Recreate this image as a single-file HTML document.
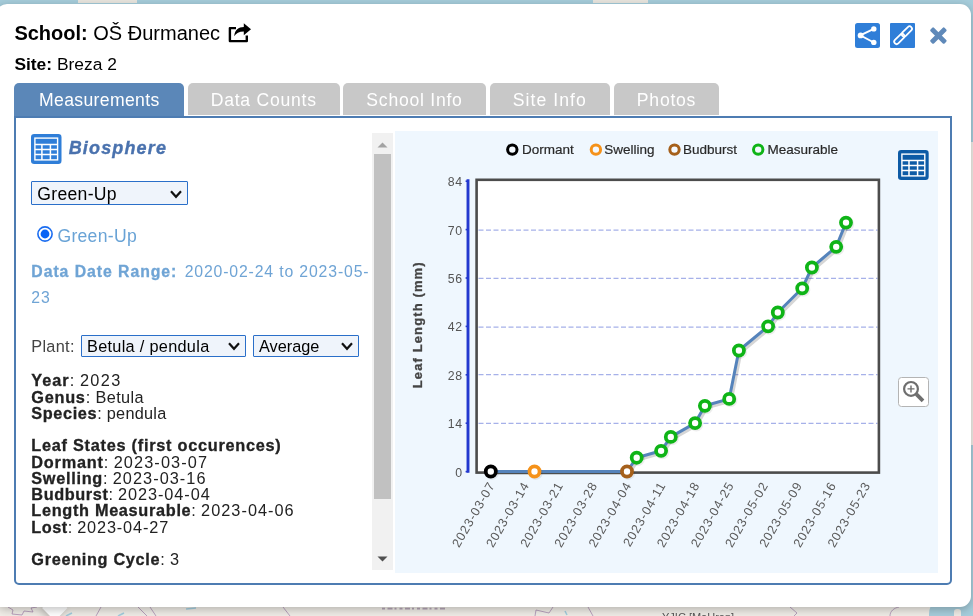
<!DOCTYPE html>
<html><head><meta charset="utf-8">
<style>
*{box-sizing:border-box;margin:0;padding:0}
html,body{width:973px;height:616px;overflow:hidden}
body{position:relative;background:#f0ede7;font-family:"Liberation Sans",sans-serif;color:#000}
#wrap{position:absolute;left:0;top:0;width:973px;height:616px;overflow:hidden;will-change:transform}
.abs{position:absolute}
#water-top{left:0;top:0;width:973px;height:8px;background:#a6cddb}
#land-top{left:77.5px;top:0;width:59.5px;height:3px;background:#e9e6df}
#water-br{left:929px;top:596px;width:60px;height:30px;background:#a6cddb;border-radius:18px 0 0 0}
#popup{left:-3.8px;top:3.7px;width:974.9px;height:603.5px;background:#fff;border-radius:11px;box-shadow:0 2.5px 9px rgba(0,0,0,.24)}
#tip{left:45.6px;top:598.7px;width:17.6px;height:17.6px;background:#fff;transform:rotate(45deg);box-shadow:0 2.5px 9px rgba(0,0,0,.24)}
#tipcover{left:0;top:590px;width:300px;height:17px;background:#fff}
.t{position:absolute;white-space:nowrap;line-height:1}
.tab{position:absolute;top:83.25px;height:31.25px;background:#c8c8c8;border-radius:5px 5px 0 0;color:#fff;font-size:17.6px;text-align:center;line-height:35.4px;letter-spacing:.35px}
.tab.on{background:#5b87b8;height:34px;top:83.25px;line-height:35.4px}
#panel{left:14.3px;top:115.5px;width:938px;height:469px;border:2px solid #4d7cb2;border-radius:0 0 5px 5px}
.dv{--d:0px;font-size:16.3px;letter-spacing:calc(.3px + var(--d));color:#222}
.dv b{letter-spacing:calc(.65px + var(--d));-webkit-text-stroke:.3px #222}
.dv i{font-style:normal;letter-spacing:calc(1px + var(--d))}
.dv span{letter-spacing:calc(.3px + var(--d))}
.sel{position:absolute;border:1px solid #2a6fc9;background:#eff4fb;border-radius:1px}
</style></head><body><div id="wrap">
<div id="water-top" class="abs"></div><div class="abs" style="left:593px;top:0;width:55px;height:3px;background:#e9e6df"></div><div class="abs" style="left:966px;top:0;width:7px;height:142px;background:#a6cddb"></div><div class="abs" style="left:966px;top:445px;width:7px;height:171px;background:#a6cddb"></div><div id="land-top" class="abs"></div><div id="water-br" class="abs"></div><div class="abs" style="left:954px;top:609px;width:7px;height:7px;background:#eeebe5;border-radius:3px 3px 0 0"></div>
<svg class="abs" style="left:0;top:600px" width="973" height="16" viewBox="0 600 973 16" fill="none">
<g stroke="#9a78a6" stroke-opacity=".65" stroke-width="1">
<path d="M8 607 L13 610 L12 614 L22 615 L24 611 L33 612 L31 608 L37 607"/>
<path d="M101 607 L96 616"/><path d="M138 607 L147 616"/><path d="M150 607 L156 616"/>
<path d="M283 607 L290 616"/><path d="M535 616 L536 610 L549 613 L553 607"/><path d="M588 607 L593 616"/>
<path d="M790 607 L797 613 L794 616"/><path d="M890 616 C890 611 894 608 899 607"/>
</g>
<g stroke="#8fc6dc" stroke-opacity=".8" stroke-width="1.6"><path d="M186 609 L196 608"/><path d="M66 616 L72 613"/><path d="M118 616 L124 613"/><path d="M565 611 L567 615"/></g>
<path d="M382 608.6 H447" stroke="#6b4a78" stroke-opacity=".45" stroke-width="1.8" stroke-dasharray="3 2.5 5 2 2 3"/>
<text x="662" y="620.5" font-family="Liberation Sans, sans-serif" font-size="11" fill="#555">YJIC [MoHron]</text>
</svg>
<div id="tip" class="abs"></div>
<div id="popup" class="abs"></div>
<div id="tipcover" class="abs"></div>

<!-- header -->
<div class="t" style="left:14.4px;top:23.4px;font-size:20px"><b>School:</b> OŠ Đurmanec</div>
<div class="t" style="left:14.4px;top:55.7px;font-size:17.4px"><b>Site:</b> Breza 2</div>
<svg class="abs" style="left:227px;top:22px" width="26" height="22" viewBox="0 0 26 22">
<path d="M9 6.1 H2.9 V19.1 H19.8 V13.6" fill="none" stroke="#000" stroke-width="2.4" stroke-linejoin="round" stroke-linecap="butt"/>
<path d="M7.2 14.3 C7.8 7.8 11.5 5.2 16.8 5.1 V1.2 L24 7.2 L16.8 13.3 V9.5 C12 9.5 9.2 11 7.2 14.3 Z" fill="#000"/>
</svg>

<!-- share / link / close -->
<svg class="abs" style="left:855px;top:23px" width="25" height="25" viewBox="0 0 25 25">
<rect width="25" height="25" rx="2.5" fill="#2f7ed8"/>
<path d="M18.8 5.8 L5.3 12.4 L18.8 19.5" fill="none" stroke="#fff" stroke-width="1.9"/>
<circle cx="5.6" cy="12.4" r="2.9" fill="#fff"/><circle cx="18.8" cy="5.9" r="2.7" fill="#fff"/><circle cx="18.8" cy="19.4" r="2.7" fill="#fff"/>
</svg>
<svg class="abs" style="left:890px;top:23px" width="25" height="25" viewBox="0 0 25 25">
<rect width="25" height="25" rx="1" fill="#2f7ed8"/>
<g transform="translate(.6 -.3) rotate(-45 12.5 12.5)" fill="none" stroke="#fff" stroke-width="1.75">
<rect x="0.95" y="10.1" width="12.5" height="4.8" rx="2.4"/><rect x="11.55" y="10.1" width="12.5" height="4.8" rx="2.4"/>
</g></svg>
<svg class="abs" style="left:929px;top:26.4px" width="19" height="19" viewBox="0 0 19 19">
<g transform="translate(9.4 9.6) rotate(45)" fill="#5f89b9"><rect x="-9.9" y="-2.4" width="19.8" height="4.8" rx="1.2"/><rect x="-2.4" y="-9.9" width="4.8" height="19.8" rx="1.2"/></g>
</svg>

<!-- tabs -->
<div class="tab on" style="left:14.3px;width:170px">Measurements</div>
<div class="tab" style="left:187.5px;width:152.5px;letter-spacing:.75px">Data Counts</div>
<div class="tab" style="left:343px;width:143px;letter-spacing:.75px">School Info</div>
<div class="tab" style="left:489.8px;width:120px;letter-spacing:1.05px">Site Info</div>
<div class="tab" style="left:614px;width:105px;letter-spacing:.75px">Photos</div>
<div id="panel" class="abs"></div>

<!-- left column -->
<svg class="abs" style="left:31.3px;top:134px" width="30.5" height="30" viewBox="0 0 30.5 30">
<rect width="30.5" height="30" rx="3.2" fill="#2f7ed8"/>
<rect x="3.9" y="4.1" width="22.7" height="21.8" fill="none" stroke="#fff" stroke-width="1.4"/>
<path d="M3.9 10.6 H26.6 M3.9 15.6 H26.6 M3.9 20.6 H26.6 M10.9 10.6 V25.9 M19.4 10.6 V25.9" stroke="#fff" stroke-width="1.5" fill="none"/>
</svg>
<div class="t" id="bio" style="left:68.7px;top:138.8px;font-size:18px;font-weight:bold;font-style:italic;color:#4a72ae;letter-spacing:1.15px;-webkit-text-stroke:.35px #4a72ae">Biosphere</div>

<div class="sel" style="left:31px;top:181px;width:157px;height:24px"></div>
<div class="t" id="s1" style="left:37.3px;top:186.3px;font-size:17.6px;letter-spacing:.3px;color:#000">Green-Up</div>
<svg class="abs chev" style="left:169.5px;top:189.5px" width="12" height="9" viewBox="0 0 12 9"><path d="M1 1.3 L6 6.8 L11 1.3" fill="none" stroke="#111" stroke-width="2.2"/></svg>

<svg class="abs" style="left:37px;top:226px" width="16" height="16" viewBox="0 0 16 16"><circle cx="8" cy="8" r="7.1" fill="#fff" stroke="#1a6cf0" stroke-width="1.6"/><circle cx="8" cy="8" r="4.4" fill="#0a64f5"/></svg>
<div class="t" id="r1" style="left:57.4px;top:227.9px;font-size:17.6px;letter-spacing:.3px;color:#69a3d6">Green-Up</div>

<div class="t" id="ddr" style="left:31.3px;top:264.2px;font-size:15.8px;color:#6fa4d5;letter-spacing:.55px"><b style="letter-spacing:.95px;-webkit-text-stroke:.3px #6fa4d5">Data Date Range:</b><span style="letter-spacing:.85px;margin-left:7.4px">2020-02-24 to 2023-05-</span></div>
<div class="t" id="ddr2" style="left:31.3px;top:290.4px;font-size:15.8px;color:#6fa4d5;letter-spacing:.85px">23</div>

<div class="t dv" id="plant" style="left:31.3px;top:337.9px;color:#444">Plant:</div>
<div class="sel" style="left:80.8px;top:335px;width:165px;height:21.8px"></div>
<div class="t dv" id="s2" style="left:87px;top:337.9px;color:#000">Betula / pendula</div>
<svg class="abs chev" style="left:228px;top:342px" width="12" height="9" viewBox="0 0 12 9"><path d="M1 1.3 L6 6.8 L11 1.3" fill="none" stroke="#111" stroke-width="2.2"/></svg>
<div class="sel" style="left:252.8px;top:335px;width:106.4px;height:21.8px"></div>
<div class="t dv" id="s3" style="letter-spacing:0;left:259px;top:337.9px;color:#000">Average</div>
<svg class="abs chev" style="left:340.8px;top:342px" width="12" height="9" viewBox="0 0 12 9"><path d="M1 1.3 L6 6.8 L11 1.3" fill="none" stroke="#111" stroke-width="2.2"/></svg>

<div class="abs dv" id="info" style="left:31.3px;top:372.3px;line-height:16.25px;white-space:nowrap">
<span id="L0" style="--d:0.333px"><b>Year</b>: <i>2023</i></span><br>
<span id="L1" style="--d:0.083px"><b>Genus</b>: Betula</span><br>
<span id="L2" style="--d:-0.033px"><b>Species</b>: pendula</span><br>
<br>
<span id="L4" style="--d:0.090px"><b>Leaf States (first occurences)</b></span><br>
<span id="L5" style="--d:0.13px"><b>Dormant</b>: <i>2023-03-07</i></span><br>
<span id="L6" style="--d:0.053px"><b>Swelling</b>: <i>2023-03-16</i></span><br>
<span id="L7" style="--d:-0.053px"><b>Budburst</b>: <i>2023-04-04</i></span><br>
<span id="L8" style="--d:0.036px"><b>Length Measurable</b>: <i>2023-04-06</i></span><br>
<span id="L9" style="--d:-0.133px"><b>Lost</b>: <i>2023-04-27</i></span><br>
<br>
<span id="L11" style="--d:0.031px"><b>Greening Cycle</b>: <i>3</i></span></div>

<!-- scrollbar -->
<div class="abs" style="left:372px;top:132.5px;width:21.2px;height:437.5px;background:#f1f1f1"></div>
<div class="abs" style="left:374.3px;top:154px;width:16.6px;height:345px;background:#c1c1c1"></div>
<svg class="abs" style="left:377px;top:141.5px" width="11" height="6" viewBox="0 0 11 6"><path d="M0.5 5.6 L5.5 0.4 L10.5 5.6Z" fill="#a3a3a3"/></svg>
<svg class="abs" style="left:377px;top:555.6px" width="11" height="6" viewBox="0 0 11 6"><path d="M0.5 0.4 L5.5 5.6 L10.5 0.4Z" fill="#505050"/></svg>
<!-- chart -->
<div id="chart" class="abs" style="left:395px;top:130.5px;width:543px;height:442px;background:#eff7fe"></div>
<svg class="abs" style="left:0;top:0" width="973" height="616" viewBox="0 0 973 616" font-family="Liberation Sans, sans-serif">
<rect x="476.6" y="179.8" width="402.3" height="292.8" fill="#fff"/>
<line x1="478.5" x2="877.5" y1="230.0" y2="230.0" stroke="#a6b1e9" stroke-width="1.25" stroke-dasharray="5 2.5"/>
<line x1="478.5" x2="877.5" y1="278.3" y2="278.3" stroke="#a6b1e9" stroke-width="1.25" stroke-dasharray="5 2.5"/>
<line x1="478.5" x2="877.5" y1="327.2" y2="327.2" stroke="#a6b1e9" stroke-width="1.25" stroke-dasharray="5 2.5"/>
<line x1="478.5" x2="877.5" y1="374.6" y2="374.6" stroke="#a6b1e9" stroke-width="1.25" stroke-dasharray="5 2.5"/>
<line x1="478.5" x2="877.5" y1="423.3" y2="423.3" stroke="#a6b1e9" stroke-width="1.25" stroke-dasharray="5 2.5"/>
<rect x="476.6" y="179.8" width="402.3" height="292.8" fill="none" stroke="#4c4c4c" stroke-width="2.6"/>
<line x1="468" x2="468" y1="179.3" y2="472.8" stroke="#2338cf" stroke-width="2.9"/>
<line x1="465.6" x2="468" y1="181.2" y2="181.2" stroke="#2338cf" stroke-width="1.6"/>
<text x="463" y="186.2" text-anchor="end" font-size="12.3" letter-spacing=".8" fill="#555">84</text>
<line x1="465.6" x2="468" y1="229.6" y2="229.6" stroke="#2338cf" stroke-width="1.6"/>
<text x="463" y="234.6" text-anchor="end" font-size="12.3" letter-spacing=".8" fill="#555">70</text>
<line x1="465.6" x2="468" y1="278.0" y2="278.0" stroke="#2338cf" stroke-width="1.6"/>
<text x="463" y="283.0" text-anchor="end" font-size="12.3" letter-spacing=".8" fill="#555">56</text>
<line x1="465.6" x2="468" y1="326.4" y2="326.4" stroke="#2338cf" stroke-width="1.6"/>
<text x="463" y="331.4" text-anchor="end" font-size="12.3" letter-spacing=".8" fill="#555">42</text>
<line x1="465.6" x2="468" y1="374.8" y2="374.8" stroke="#2338cf" stroke-width="1.6"/>
<text x="463" y="379.8" text-anchor="end" font-size="12.3" letter-spacing=".8" fill="#555">28</text>
<line x1="465.6" x2="468" y1="423.2" y2="423.2" stroke="#2338cf" stroke-width="1.6"/>
<text x="463" y="428.2" text-anchor="end" font-size="12.3" letter-spacing=".8" fill="#555">14</text>
<line x1="465.6" x2="468" y1="471.6" y2="471.6" stroke="#2338cf" stroke-width="1.6"/>
<text x="463" y="476.6" text-anchor="end" font-size="12.3" letter-spacing=".8" fill="#555">0</text>
<text transform="translate(422.3 324.8) rotate(-90)" text-anchor="middle" font-size="13" font-weight="bold" letter-spacing="1.12" fill="#444" stroke="#444" stroke-width=".3">Leaf Length (mm)</text>
<text transform="translate(495.5 485) rotate(-60)" text-anchor="end" font-size="12.6" letter-spacing=".87" fill="#5a5a5a">2023-03-07</text>
<text transform="translate(529.6 485) rotate(-60)" text-anchor="end" font-size="12.6" letter-spacing=".87" fill="#5a5a5a">2023-03-14</text>
<text transform="translate(563.7 485) rotate(-60)" text-anchor="end" font-size="12.6" letter-spacing=".87" fill="#5a5a5a">2023-03-21</text>
<text transform="translate(597.9 485) rotate(-60)" text-anchor="end" font-size="12.6" letter-spacing=".87" fill="#5a5a5a">2023-03-28</text>
<text transform="translate(632.0 485) rotate(-60)" text-anchor="end" font-size="12.6" letter-spacing=".87" fill="#5a5a5a">2023-04-04</text>
<text transform="translate(666.2 485) rotate(-60)" text-anchor="end" font-size="12.6" letter-spacing=".87" fill="#5a5a5a">2023-04-11</text>
<text transform="translate(700.3 485) rotate(-60)" text-anchor="end" font-size="12.6" letter-spacing=".87" fill="#5a5a5a">2023-04-18</text>
<text transform="translate(734.4 485) rotate(-60)" text-anchor="end" font-size="12.6" letter-spacing=".87" fill="#5a5a5a">2023-04-25</text>
<text transform="translate(768.6 485) rotate(-60)" text-anchor="end" font-size="12.6" letter-spacing=".87" fill="#5a5a5a">2023-05-02</text>
<text transform="translate(802.7 485) rotate(-60)" text-anchor="end" font-size="12.6" letter-spacing=".87" fill="#5a5a5a">2023-05-09</text>
<text transform="translate(836.8 485) rotate(-60)" text-anchor="end" font-size="12.6" letter-spacing=".87" fill="#5a5a5a">2023-05-16</text>
<text transform="translate(871.0 485) rotate(-60)" text-anchor="end" font-size="12.6" letter-spacing=".87" fill="#5a5a5a">2023-05-23</text>
<polyline points="490.8,471.5 534.5,471.5 627.0,471.5 636.7,457.7 661.1,450.8 670.8,436.9 695.1,423.1 704.9,405.8 729.2,398.9 738.9,350.5 768.1,326.3 777.8,312.5 802.2,288.3 811.9,267.5 836.2,246.8 846.0,222.6" fill="none" stroke="#000" stroke-opacity=".16" stroke-width="3.2" transform="translate(1.9 2)" stroke-linejoin="round"/>
<polyline points="490.8,471.5 534.5,471.5 627.0,471.5 636.7,457.7 661.1,450.8 670.8,436.9 695.1,423.1 704.9,405.8 729.2,398.9 738.9,350.5 768.1,326.3 777.8,312.5 802.2,288.3 811.9,267.5 836.2,246.8 846.0,222.6" fill="none" stroke="#5583bb" stroke-width="3" stroke-linejoin="round"/>
<circle cx="491.9" cy="472.9" r="5.1" fill="none" stroke="#000" stroke-opacity=".07" stroke-width="3.8"/>
<circle cx="490.8" cy="471.5" r="5.05" fill="#fff" stroke="#000" stroke-width="3.75"/>
<circle cx="535.7" cy="472.9" r="5.1" fill="none" stroke="#000" stroke-opacity=".07" stroke-width="3.8"/>
<circle cx="534.5" cy="471.5" r="5.05" fill="#fff" stroke="#f5921a" stroke-width="3.75"/>
<circle cx="628.2" cy="472.9" r="5.1" fill="none" stroke="#000" stroke-opacity=".07" stroke-width="3.8"/>
<circle cx="627.0" cy="471.5" r="5.05" fill="#fff" stroke="#a5601b" stroke-width="3.75"/>
<circle cx="637.9" cy="459.1" r="5.1" fill="none" stroke="#000" stroke-opacity=".07" stroke-width="3.8"/>
<circle cx="636.7" cy="457.7" r="5.05" fill="#fff" stroke="#0fb417" stroke-width="3.75"/>
<circle cx="662.3" cy="452.2" r="5.1" fill="none" stroke="#000" stroke-opacity=".07" stroke-width="3.8"/>
<circle cx="661.1" cy="450.8" r="5.05" fill="#fff" stroke="#0fb417" stroke-width="3.75"/>
<circle cx="672.0" cy="438.3" r="5.1" fill="none" stroke="#000" stroke-opacity=".07" stroke-width="3.8"/>
<circle cx="670.8" cy="436.9" r="5.05" fill="#fff" stroke="#0fb417" stroke-width="3.75"/>
<circle cx="696.3" cy="424.5" r="5.1" fill="none" stroke="#000" stroke-opacity=".07" stroke-width="3.8"/>
<circle cx="695.1" cy="423.1" r="5.05" fill="#fff" stroke="#0fb417" stroke-width="3.75"/>
<circle cx="706.1" cy="407.2" r="5.1" fill="none" stroke="#000" stroke-opacity=".07" stroke-width="3.8"/>
<circle cx="704.9" cy="405.8" r="5.05" fill="#fff" stroke="#0fb417" stroke-width="3.75"/>
<circle cx="730.4" cy="400.3" r="5.1" fill="none" stroke="#000" stroke-opacity=".07" stroke-width="3.8"/>
<circle cx="729.2" cy="398.9" r="5.05" fill="#fff" stroke="#0fb417" stroke-width="3.75"/>
<circle cx="740.1" cy="351.9" r="5.1" fill="none" stroke="#000" stroke-opacity=".07" stroke-width="3.8"/>
<circle cx="738.9" cy="350.5" r="5.05" fill="#fff" stroke="#0fb417" stroke-width="3.75"/>
<circle cx="769.3" cy="327.7" r="5.1" fill="none" stroke="#000" stroke-opacity=".07" stroke-width="3.8"/>
<circle cx="768.1" cy="326.3" r="5.05" fill="#fff" stroke="#0fb417" stroke-width="3.75"/>
<circle cx="779.0" cy="313.9" r="5.1" fill="none" stroke="#000" stroke-opacity=".07" stroke-width="3.8"/>
<circle cx="777.8" cy="312.5" r="5.05" fill="#fff" stroke="#0fb417" stroke-width="3.75"/>
<circle cx="803.4" cy="289.7" r="5.1" fill="none" stroke="#000" stroke-opacity=".07" stroke-width="3.8"/>
<circle cx="802.2" cy="288.3" r="5.05" fill="#fff" stroke="#0fb417" stroke-width="3.75"/>
<circle cx="813.1" cy="268.9" r="5.1" fill="none" stroke="#000" stroke-opacity=".07" stroke-width="3.8"/>
<circle cx="811.9" cy="267.5" r="5.05" fill="#fff" stroke="#0fb417" stroke-width="3.75"/>
<circle cx="837.4" cy="248.2" r="5.1" fill="none" stroke="#000" stroke-opacity=".07" stroke-width="3.8"/>
<circle cx="836.2" cy="246.8" r="5.05" fill="#fff" stroke="#0fb417" stroke-width="3.75"/>
<circle cx="847.2" cy="224.0" r="5.1" fill="none" stroke="#000" stroke-opacity=".07" stroke-width="3.8"/>
<circle cx="846.0" cy="222.6" r="5.05" fill="#fff" stroke="#0fb417" stroke-width="3.75"/>
<circle cx="512.3" cy="149.6" r="4.7" fill="#f4f9fe" stroke="#000" stroke-width="3"/>
<text x="522" y="154.4" font-size="13.5" fill="#2a2a2a" stroke="#2a2a2a" stroke-width=".2">Dormant</text>
<circle cx="595.9" cy="149.6" r="4.7" fill="#f4f9fe" stroke="#f5921a" stroke-width="3"/>
<text x="604.3" y="154.4" font-size="13.5" fill="#2a2a2a" stroke="#2a2a2a" stroke-width=".2">Swelling</text>
<circle cx="674.5" cy="149.6" r="4.7" fill="#f4f9fe" stroke="#a5601b" stroke-width="3"/>
<text x="683" y="154.4" font-size="13.5" fill="#2a2a2a" stroke="#2a2a2a" stroke-width=".2">Budburst</text>
<circle cx="758.2" cy="149.6" r="4.7" fill="#f4f9fe" stroke="#0fb417" stroke-width="3"/>
<text x="767.5" y="154.4" font-size="13.5" fill="#2a2a2a" stroke="#2a2a2a" stroke-width=".2">Measurable</text>
</svg>
<svg class="abs" style="left:898.3px;top:150px" width="30.7" height="30" viewBox="0 0 30.7 30">
<rect width="30.7" height="30" rx="3.2" fill="#0d5ba6"/>
<rect x="3.9" y="4.1" width="22.9" height="21.8" fill="none" stroke="#fff" stroke-width="1.4"/>
<path d="M3.9 10.6 H26.8 M3.9 15.6 H26.8 M3.9 20.6 H26.8 M11 10.6 V25.9 M19.6 10.6 V25.9" stroke="#fff" stroke-width="1.5" fill="none"/>
</svg>
<svg class="abs" style="left:898px;top:377px" width="31" height="30" viewBox="0 0 31 30">
<rect x=".5" y=".5" width="30" height="29" rx="3" fill="#fff" stroke="#b4b4b4"/>
<circle cx="13" cy="11.9" r="6.9" fill="none" stroke="#6e6e6e" stroke-width="2.2"/>
<path d="M9.5 11.9 H16.5 M13 8.4 V15.4" stroke="#6e6e6e" stroke-width="1.4"/>
<path d="M18.3 17.2 L25 23.9" stroke="#6e6e6e" stroke-width="3.8"/>
</svg>
</div></body></html>
